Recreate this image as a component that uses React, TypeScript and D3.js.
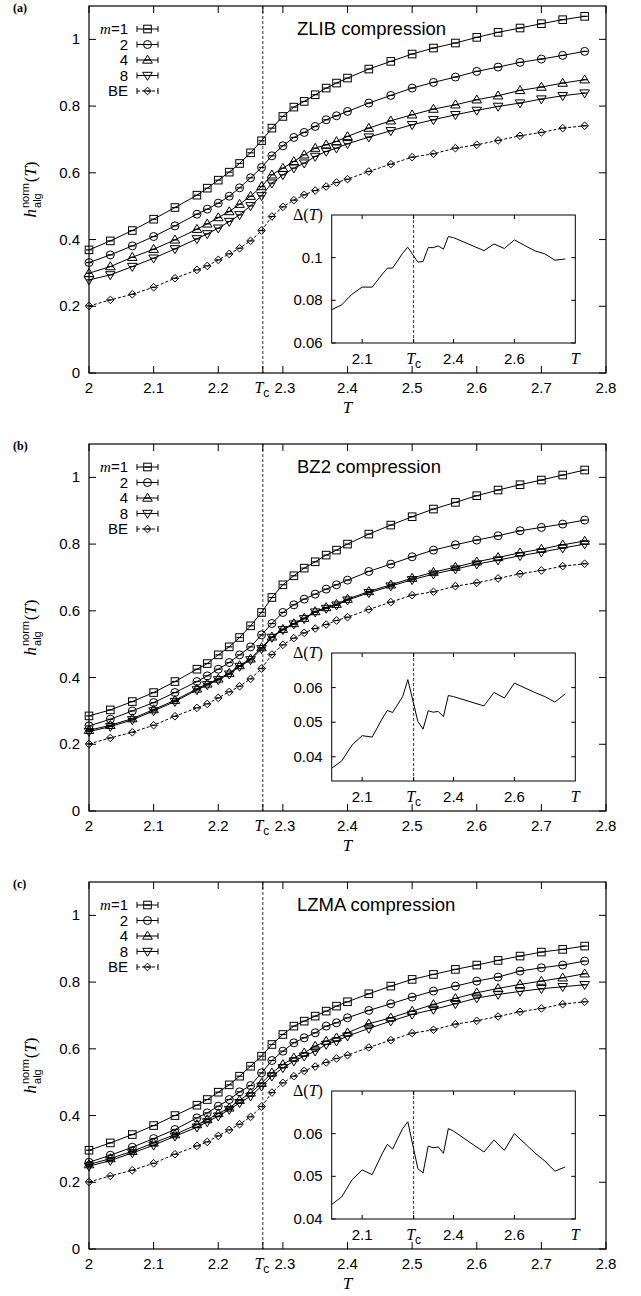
import * as d3 from 'd3';

// temperatures of the main curves
const T = [2.0, 2.033, 2.067, 2.1, 2.133, 2.167, 2.183, 2.2, 2.217, 2.233, 2.25, 2.267, 2.283, 2.3, 2.317, 2.333, 2.35, 2.367, 2.383, 2.4, 2.433, 2.467, 2.5, 2.533, 2.567, 2.6, 2.633, 2.667, 2.7, 2.733, 2.767];
const TC = 2.269;

const zlibM1 = [0.369, 0.396, 0.427, 0.461, 0.496, 0.533, 0.554, 0.578, 0.602, 0.628, 0.66, 0.696, 0.734, 0.769, 0.797, 0.814, 0.834, 0.854, 0.869, 0.884, 0.911, 0.934, 0.956, 0.974, 0.989, 1.006, 1.021, 1.034, 1.047, 1.059, 1.069];
const zlibM2 = [0.331, 0.354, 0.381, 0.409, 0.441, 0.476, 0.491, 0.509, 0.53, 0.555, 0.585, 0.616, 0.651, 0.681, 0.706, 0.721, 0.739, 0.759, 0.771, 0.784, 0.809, 0.832, 0.854, 0.871, 0.887, 0.904, 0.917, 0.931, 0.941, 0.952, 0.964];
const zlibM4 = [0.299, 0.319, 0.347, 0.371, 0.399, 0.431, 0.447, 0.466, 0.484, 0.506, 0.53, 0.559, 0.594, 0.614, 0.634, 0.654, 0.674, 0.684, 0.694, 0.709, 0.734, 0.756, 0.774, 0.791, 0.804, 0.819, 0.831, 0.847, 0.857, 0.869, 0.879];
const zlibM8 = [0.279, 0.294, 0.319, 0.344, 0.372, 0.402, 0.417, 0.434, 0.454, 0.474, 0.501, 0.531, 0.569, 0.594, 0.614, 0.629, 0.649, 0.664, 0.674, 0.687, 0.707, 0.726, 0.744, 0.759, 0.774, 0.787, 0.799, 0.809, 0.821, 0.831, 0.839];

const bz2M1 = [0.285, 0.303, 0.328, 0.355, 0.388, 0.425, 0.442, 0.468, 0.492, 0.52, 0.555, 0.595, 0.64, 0.678, 0.705, 0.728, 0.747, 0.767, 0.782, 0.8, 0.83, 0.857, 0.882, 0.905, 0.925, 0.945, 0.962, 0.978, 0.992, 1.007, 1.022];
const bz2M2 = [0.255, 0.275, 0.3, 0.325, 0.355, 0.388, 0.405, 0.425, 0.445, 0.468, 0.492, 0.528, 0.562, 0.595, 0.618, 0.635, 0.65, 0.665, 0.678, 0.692, 0.718, 0.74, 0.762, 0.782, 0.798, 0.812, 0.825, 0.84, 0.85, 0.86, 0.872];
const bz2M4 = [0.242, 0.257, 0.277, 0.304, 0.332, 0.366, 0.381, 0.396, 0.413, 0.436, 0.456, 0.49, 0.522, 0.545, 0.562, 0.578, 0.598, 0.61, 0.62, 0.635, 0.658, 0.678, 0.698, 0.716, 0.731, 0.747, 0.76, 0.774, 0.785, 0.798, 0.809];
const bz2M8 = [0.238, 0.253, 0.273, 0.3, 0.328, 0.363, 0.378, 0.393, 0.41, 0.433, 0.453, 0.486, 0.52, 0.543, 0.56, 0.576, 0.596, 0.607, 0.617, 0.632, 0.654, 0.674, 0.693, 0.71, 0.725, 0.74, 0.752, 0.765, 0.776, 0.788, 0.8];

const lzmaM1 = [0.296, 0.318, 0.343, 0.37, 0.4, 0.431, 0.448, 0.47, 0.492, 0.518, 0.548, 0.578, 0.613, 0.643, 0.668, 0.683, 0.698, 0.713, 0.728, 0.741, 0.765, 0.788, 0.808, 0.823, 0.838, 0.851, 0.865, 0.878, 0.89, 0.898, 0.908];
const lzmaM2 = [0.26, 0.281, 0.305, 0.331, 0.358, 0.393, 0.408, 0.428, 0.448, 0.471, 0.49, 0.528, 0.565, 0.593, 0.618, 0.633, 0.648, 0.668, 0.678, 0.693, 0.715, 0.735, 0.755, 0.773, 0.788, 0.803, 0.815, 0.833, 0.843, 0.851, 0.863];
const lzmaM4 = [0.253, 0.271, 0.293, 0.318, 0.343, 0.373, 0.388, 0.406, 0.423, 0.446, 0.468, 0.497, 0.528, 0.553, 0.573, 0.588, 0.608, 0.623, 0.633, 0.648, 0.675, 0.693, 0.713, 0.733, 0.751, 0.768, 0.781, 0.793, 0.803, 0.813, 0.825];
const lzmaM8 = [0.248, 0.265, 0.288, 0.311, 0.338, 0.365, 0.381, 0.398, 0.418, 0.438, 0.458, 0.488, 0.518, 0.543, 0.563, 0.578, 0.593, 0.613, 0.623, 0.638, 0.661, 0.683, 0.703, 0.718, 0.735, 0.752, 0.763, 0.772, 0.78, 0.786, 0.792];

const BE = [0.201, 0.219, 0.236, 0.257, 0.284, 0.309, 0.321, 0.339, 0.357, 0.374, 0.396, 0.427, 0.469, 0.498, 0.518, 0.534, 0.547, 0.559, 0.571, 0.581, 0.604, 0.626, 0.647, 0.657, 0.674, 0.684, 0.697, 0.711, 0.721, 0.734, 0.741];

// inset Delta(T)
const insetT = [2.0, 2.033, 2.067, 2.1, 2.133, 2.167, 2.183, 2.2, 2.233, 2.25, 2.283, 2.3, 2.317, 2.333, 2.35, 2.367, 2.383, 2.4, 2.5, 2.533, 2.567, 2.6, 2.667, 2.7, 2.733, 2.767];
const zlibDelta = [0.0756, 0.0779, 0.0829, 0.0862, 0.0862, 0.0924, 0.0951, 0.0951, 0.1021, 0.1049, 0.0979, 0.0982, 0.1047, 0.1047, 0.1055, 0.104, 0.1099, 0.1094, 0.1033, 0.1064, 0.1043, 0.1083, 0.1032, 0.1018, 0.0988, 0.0994];
const bz2Delta = [0.0367, 0.0388, 0.0434, 0.0461, 0.0457, 0.0512, 0.0534, 0.0528, 0.0574, 0.0623, 0.0502, 0.048, 0.0533, 0.0529, 0.0531, 0.0516, 0.0577, 0.0574, 0.0547, 0.0586, 0.057, 0.0613, 0.0586, 0.0574, 0.0558, 0.0582];
const lzmaDelta = [0.0434, 0.0452, 0.0492, 0.0515, 0.0504, 0.0555, 0.0575, 0.0564, 0.0612, 0.0628, 0.0518, 0.0508, 0.0571, 0.0567, 0.0569, 0.0554, 0.0612, 0.0606, 0.0557, 0.0585, 0.0561, 0.06, 0.0555, 0.0536, 0.0512, 0.0522];

const xTicks = [2, 2.1, 2.2, 2.3, 2.4, 2.5, 2.6, 2.7, 2.8];
const yTicks = [0, 0.2, 0.4, 0.6, 0.8, 1];
const insetXTicks = [2.1, 2.4, 2.6];
const seriesLabels = ['1', '2', '4', '8', 'BE'];
const markerKinds = ['square', 'circle', 'up', 'down', 'diamond'];

const W = 641;
const H = 1296;
const LEFT = 89;
const RIGHT = 606;
const PH = 367;
const PANEL_TOPS = [6, 444, 882];
const INSET = { x0: 331.7, x1: 575.3, y0: 209, y1: 337 };

const SANS = 'Liberation Sans, Arial, sans-serif';
const SERIF = 'Liberation Serif, Times New Roman, serif';

const panels = [
  { tag: '(a)', title: 'ZLIB compression', series: [zlibM1, zlibM2, zlibM4, zlibM8, BE], delta: zlibDelta, dDomain: [0.06, 0.12], dTicks: [0.06, 0.08, 0.1] },
  { tag: '(b)', title: 'BZ2 compression', series: [bz2M1, bz2M2, bz2M4, bz2M8, BE], delta: bz2Delta, dDomain: [0.033, 0.07], dTicks: [0.04, 0.05, 0.06] },
  { tag: '(c)', title: 'LZMA compression', series: [lzmaM1, lzmaM2, lzmaM4, lzmaM8, BE], delta: lzmaDelta, dDomain: [0.04, 0.07], dTicks: [0.04, 0.05, 0.06] },
];

function Marker({ kind, x, y }: { kind: string; x: number; y: number }) {
  const st = { fill: 'none', stroke: '#000', strokeWidth: 1 };
  let shape;
  if (kind === 'square') shape = <rect x={x - 3.8} y={y - 3.8} width={7.6} height={7.6} {...st} />;
  else if (kind === 'circle') shape = <circle cx={x} cy={y} r={4} {...st} />;
  else if (kind === 'up') shape = <path d={`M${x},${y - 4.8}L${x + 4.8},${y + 3.2}L${x - 4.8},${y + 3.2}Z`} {...st} />;
  else if (kind === 'down') shape = <path d={`M${x},${y + 4.8}L${x + 4.8},${y - 3.2}L${x - 4.8},${y - 3.2}Z`} {...st} />;
  else shape = <path d={`M${x},${y - 3.8}L${x + 3.8},${y}L${x},${y + 3.8}L${x - 3.8},${y}Z`} {...st} />;
  return (
    <g>
      {shape}
      <line x1={x - 3} x2={x + 3} y1={y} y2={y} stroke="#000" strokeWidth={1.2} />
    </g>
  );
}

function TcLabel({ x, y }: { x: number; y: number }) {
  return (
    <text x={x} y={y} textAnchor="middle" fontSize={16}>
      <tspan fontFamily={SERIF} fontStyle="italic">T</tspan>
      <tspan fontFamily={SANS} fontSize={12} dy={4}>c</tspan>
    </text>
  );
}

function Panel({ top, p }: { top: number; p: (typeof panels)[number] }) {
  const x = d3.scaleLinear().domain([2, 2.8]).range([LEFT, RIGHT]);
  const y = d3.scaleLinear().domain([0, 1.1]).range([top + PH, top]);
  const bottom = top + PH;

  const ix = d3.scaleLinear().domain([2, 2.8]).range([INSET.x0, INSET.x1]);
  const iy = d3.scaleLinear().domain(p.dDomain).range([top + INSET.y1, top + INSET.y0]);

  const line = d3.line<number>().x((_, i) => x(T[i])).y((d) => y(d));
  const insetLine = d3.line<number>().x((_, i) => ix(insetT[i])).y((d) => iy(d));

  const legX = 128;
  const sx0 = 137;
  const sx1 = 158;

  return (
    <g>
      <text x={13} y={top + 6} fontFamily={SERIF} fontWeight="bold" fontSize={12}>{p.tag}</text>

      {/* Tc marker line */}
      <line x1={x(TC)} x2={x(TC)} y1={top} y2={bottom} stroke="#000" strokeWidth={0.8} strokeDasharray="3,2" />

      {/* ticks */}
      {[...xTicks, TC].map((t) => (
        <g key={'xt' + t}>
          <line x1={x(t)} x2={x(t)} y1={bottom} y2={bottom - 7} stroke="#000" />
          <line x1={x(t)} x2={x(t)} y1={top} y2={top + 7} stroke="#000" />
        </g>
      ))}
      {yTicks.map((t) => (
        <g key={'yt' + t}>
          <line x1={LEFT} x2={LEFT + 7} y1={y(t)} y2={y(t)} stroke="#000" />
          <line x1={RIGHT} x2={RIGHT - 7} y1={y(t)} y2={y(t)} stroke="#000" />
          <text x={LEFT - 9} y={y(t) + 5} textAnchor="end" fontFamily={SANS} fontSize={15}>{String(t)}</text>
        </g>
      ))}
      {xTicks.map((t) => (
        <text key={'xl' + t} x={x(t) + (t === 2.3 ? 2 : 0)} y={bottom + 20} textAnchor="middle" fontFamily={SANS} fontSize={15}>{String(t)}</text>
      ))}
      <TcLabel x={x(TC) - 1} y={bottom + 20} />
      <text x={(LEFT + RIGHT) / 2} y={bottom + 40} textAnchor="middle" fontFamily={SERIF} fontStyle="italic" fontSize={17}>T</text>

      {/* y axis label */}
      <text transform={`translate(36, ${top + PH / 2}) rotate(-90)`} textAnchor="middle" fontSize={17}>
        <tspan fontFamily={SERIF} fontStyle="italic">h</tspan>
        <tspan fontFamily={SANS} fontSize={11} dx={1} dy={-7}>norm</tspan>
        <tspan fontFamily={SANS} fontSize={11} dx={-25} dy={12}>alg</tspan>
        <tspan fontFamily={SERIF} dx={11} dy={-5}>(</tspan>
        <tspan fontFamily={SERIF} fontStyle="italic">T</tspan>
        <tspan fontFamily={SERIF}>)</tspan>
      </text>

      <text x={297} y={top + 29} fontFamily={SANS} fontSize={18.5}>{p.title}</text>

      {/* series */}
      {p.series.map((s, k) => (
        <g key={'s' + k}>
          <path d={line(s) ?? ''} fill="none" stroke="#000" strokeWidth={1} strokeDasharray={k === 4 ? '3,2' : undefined} />
          {s.map((v, i) => (
            <Marker key={i} kind={markerKinds[k]} x={x(T[i])} y={y(v)} />
          ))}
        </g>
      ))}

      {/* legend */}
      {seriesLabels.map((lab, k) => {
        const ly = top + 23 + k * 15.5;
        return (
          <g key={'lg' + k}>
            <text x={legX} y={ly + 5} textAnchor="end" fontFamily={SANS} fontSize={15}>
              {k === 0 ? (
                <>
                  <tspan fontFamily={SERIF} fontStyle="italic">m</tspan>
                  <tspan>=1</tspan>
                </>
              ) : lab}
            </text>
            <line x1={sx0} x2={sx1} y1={ly} y2={ly} stroke="#000" strokeDasharray={k === 4 ? '3,2' : undefined} />
            <line x1={sx0} x2={sx0} y1={ly - 3} y2={ly + 3} stroke="#000" />
            <line x1={sx1} x2={sx1} y1={ly - 3} y2={ly + 3} stroke="#000" />
            <Marker kind={markerKinds[k]} x={(sx0 + sx1) / 2} y={ly} />
          </g>
        );
      })}

      {/* inset */}
      <rect x={INSET.x0} y={top + INSET.y0} width={INSET.x1 - INSET.x0} height={INSET.y1 - INSET.y0} fill="#fff" stroke="#000" strokeWidth={1} />
      <line x1={ix(TC)} x2={ix(TC)} y1={top + INSET.y0} y2={top + INSET.y1} stroke="#000" strokeWidth={0.8} strokeDasharray="3,2" />
      {[...insetXTicks, TC].map((t) => (
        <g key={'ixt' + t}>
          <line x1={ix(t)} x2={ix(t)} y1={top + INSET.y1} y2={top + INSET.y1 - 4} stroke="#000" />
          <line x1={ix(t)} x2={ix(t)} y1={top + INSET.y0} y2={top + INSET.y0 + 4} stroke="#000" />
        </g>
      ))}
      {insetXTicks.map((t) => (
        <text key={'ixl' + t} x={ix(t)} y={top + INSET.y1 + 21} textAnchor="middle" fontFamily={SANS} fontSize={15}>{String(t)}</text>
      ))}
      <TcLabel x={ix(TC)} y={top + INSET.y1 + 21} />
      <text x={ix(2.8)} y={top + INSET.y1 + 21} textAnchor="middle" fontFamily={SERIF} fontStyle="italic" fontSize={16}>T</text>
      {p.dTicks.map((t) => (
        <g key={'iyt' + t}>
          <line x1={INSET.x0} x2={INSET.x0 + 4} y1={iy(t)} y2={iy(t)} stroke="#000" />
          <line x1={INSET.x1} x2={INSET.x1 - 4} y1={iy(t)} y2={iy(t)} stroke="#000" />
          <text x={INSET.x0 - 9} y={iy(t) + 5} textAnchor="end" fontFamily={SANS} fontSize={15}>{String(t)}</text>
        </g>
      ))}
      <text x={293} y={top + 214} fontFamily={SERIF} fontSize={16}>
        <tspan>Δ(</tspan>
        <tspan fontStyle="italic">T</tspan>
        <tspan>)</tspan>
      </text>
      <path d={insetLine(p.delta) ?? ''} fill="none" stroke="#000" strokeWidth={1} />

      {/* frame */}
      <rect x={LEFT} y={top} width={RIGHT - LEFT} height={PH} fill="none" stroke="#000" strokeWidth={1.2} />
    </g>
  );
}

export default function App() {
  return (
    <svg width={W} height={H} style={{ position: 'absolute', left: 0, top: 0, background: '#fff' }}>
      {panels.map((p, i) => (
        <Panel key={p.tag} top={PANEL_TOPS[i]} p={p} />
      ))}
    </svg>
  );
}
